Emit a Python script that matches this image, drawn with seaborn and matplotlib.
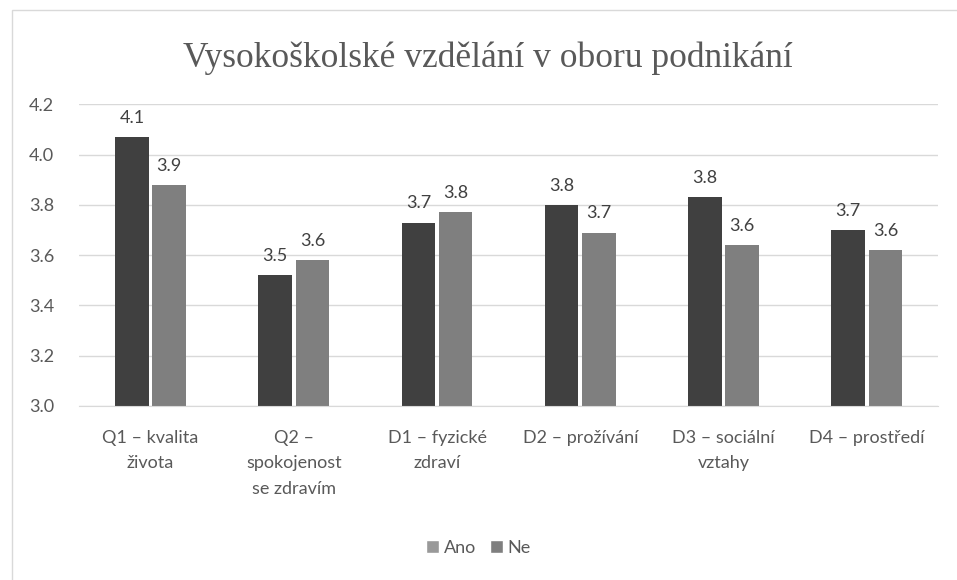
import pandas as pd
import matplotlib.pyplot as plt
import seaborn as sns
from matplotlib.patches import Patch, Rectangle

# values
categories = ["Q1 – kvalita\nživota", "Q2 –\nspokojenost\nse zdravím", "D1 – fyzické\nzdraví",
              "D2 – prožívání", "D3 – sociální\nvztahy", "D4 – prostředí"]
ano = [4.07, 3.52, 3.73, 3.80, 3.83, 3.70]
ne = [3.88, 3.58, 3.77, 3.69, 3.64, 3.62]
groups = ["Ano", "Ne"]

df = pd.DataFrame({
    "kategorie": categories * 2,
    "skupina": ["Ano"] * len(ano) + ["Ne"] * len(ne),
    "hodnota": ano + ne,
})

sns.set_style("white")
plt.rcParams["font.family"] = ["Lato", "DejaVu Sans"]
txt = "#595959"
fs = 13

fig = plt.figure(figsize=(9.57, 5.8), dpi=100)
ax = fig.add_axes([0.0825, 0.30, 0.898, 0.52])
fig.patches.append(Rectangle((0.013, -0.01), 1.0, 0.993, transform=fig.transFigure,
                             fill=False, edgecolor="#d9d9d9", linewidth=1))

sns.barplot(data=df, x="kategorie", y="hodnota", hue="skupina", hue_order=groups,
            palette=["#404040", "#7f7f7f"], width=0.52, gap=0.1, ax=ax,
            legend=False, saturation=1, edgecolor="none")

for cont in ax.containers:
    ax.bar_label(cont, fmt="%.1f", padding=8, fontsize=fs, color="#404040")

ax.set_ylim(3.0, 4.2)
ax.set_yticks([3.0, 3.2, 3.4, 3.6, 3.8, 4.0, 4.2])
ax.set_yticklabels(["3.0", "3.2", "3.4", "3.6", "3.8", "4.0", "4.2"])
ax.yaxis.grid(True, color="#d9d9d9", linewidth=1)
ax.set_axisbelow(True)
for s in ["top", "right", "left"]:
    ax.spines[s].set_visible(False)
ax.spines["bottom"].set_color("#d9d9d9")
ax.tick_params(axis="both", length=0, labelsize=fs, colors=txt)
ax.tick_params(axis="x", pad=17)
ax.tick_params(axis="y", pad=18)
for lab in ax.get_xticklabels():
    lab.set_linespacing(1.75)
ax.set_xlabel("")
ax.set_ylabel("")

fig.text(0.51, 0.9, "Vysokoškolské vzdělání v oboru podnikání",
         family=["Liberation Serif", "DejaVu Serif"], fontsize=25.5, color=txt,
         ha="center", va="center")

handles = [Patch(facecolor="#999999"), Patch(facecolor="#7f7f7f")]
fig.legend(handles, groups, loc="center", bbox_to_anchor=(0.5, 0.055), ncol=2,
           frameon=False, fontsize=fs, labelcolor=txt, handlelength=0.7,
           handleheight=0.7, handletextpad=0.25, columnspacing=0.8)

fig.savefig("out.png", dpi=100)
